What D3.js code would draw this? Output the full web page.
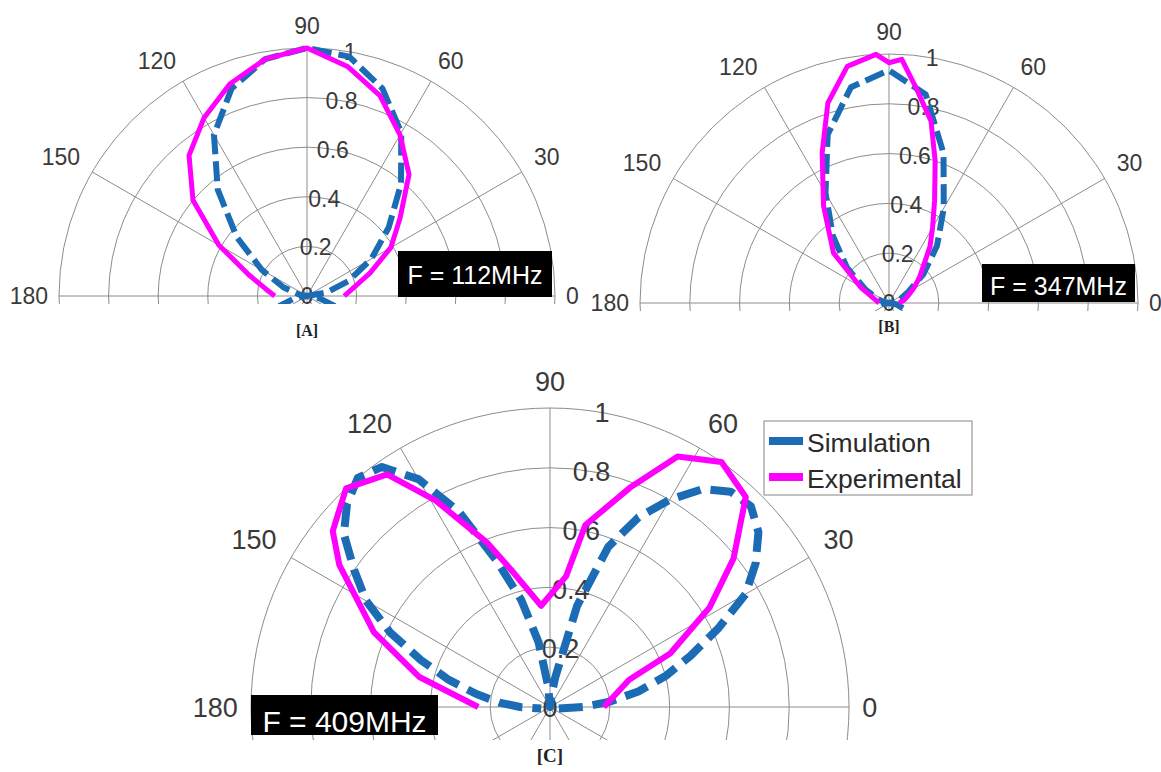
<!DOCTYPE html>
<html><head><meta charset="utf-8">
<script src="https://cdn.jsdelivr.net/npm/d3@7/dist/d3.min.js"></script>
<style>body{margin:0;background:#fff} svg{display:block}</style>
</head><body><svg id="chart" width="1161" height="772"></svg>
<script>
// ---------------- DATA ----------------
const radialTicks = [0, 0.2, 0.4, 0.6, 0.8, 1];
const radialTickLabels = ["0", "0.2", "0.4", "0.6", "0.8", "1"];
const angleTicks = [0, 30, 60, 90, 120, 150, 180];
const seriesNames = ["Simulation", "Experimental"];
const freqLabels = ["F = 112MHz", "F = 347MHz", "F = 409MHz"];
const panelTags = ["[A]", "[B]", "[C]"];

// Panel A (112 MHz)
const simA_deg = [-20, -10, 0, 10, 20, 30, 40, 50, 60, 70, 80, 90, 100, 110, 120, 130, 140, 150, 160, 170, 180, 190, 200];
const simA_val = [0.12, 0.05, 0.00, 0.08, 0.18, 0.30, 0.43, 0.59, 0.76, 0.89, 0.98, 1.00, 0.97, 0.89, 0.75, 0.56, 0.37, 0.21, 0.10, 0.03, 0.00, 0.05, 0.12];
const expA_deg = [0, 10, 20, 30, 40, 50, 60, 70, 80, 90, 100, 110, 120, 130, 140, 150, 160, 170, 180];
const expA_val = [0.15, 0.19, 0.27, 0.39, 0.49, 0.64, 0.75, 0.86, 0.94, 1.00, 0.97, 0.91, 0.83, 0.74, 0.60, 0.41, 0.25, 0.17, 0.13];

// Panel B (347 MHz)
const simB_deg = [-20, -10, 0, 10, 20, 30, 40, 50, 60, 70, 80, 90, 100, 110, 120, 130, 140, 150, 160, 170, 180, 190, 200];
const simB_val = [0.06, 0.03, 0.00, 0.02, 0.05, 0.09, 0.18, 0.30, 0.44, 0.64, 0.85, 0.935, 0.88, 0.72, 0.51, 0.35, 0.22, 0.11, 0.05, 0.02, 0.00, 0.03, 0.06];
const expB_deg = [0, 10, 20, 32, 40, 54, 60, 66, 72, 77, 83, 87, 90, 93, 100, 107, 114, 124, 138, 151, 165, 180];
const expB_val = [0.04, 0.06, 0.08, 0.12, 0.16, 0.28, 0.35, 0.45, 0.60, 0.75, 0.875, 0.98, 0.965, 1.0, 0.965, 0.84, 0.66, 0.47, 0.30, 0.13, 0.06, 0.04];

// Panel C (409 MHz)
const simC_deg = [-10, 0, 5, 10, 15, 20, 25, 30, 35, 40, 45, 50, 55, 60, 65, 70, 75, 80, 85, 90, 95, 100, 105, 110, 115, 120, 125, 130, 135, 140, 145, 150, 155, 160, 165, 170, 175, 180, 190];
const simC_val = [0.03, 0.11, 0.20, 0.30, 0.40, 0.50, 0.62, 0.755, 0.84, 0.91, 0.95, 0.94, 0.89, 0.80, 0.70, 0.57, 0.35, 0.10, 0.03, 0.00, 0.07, 0.22, 0.37, 0.52, 0.72, 0.88, 0.98, 1.00, 0.96, 0.90, 0.80, 0.71, 0.59, 0.46, 0.35, 0.25, 0.17, 0.10, 0.03];
const expC_deg = [0, 19, 24, 32, 39, 47, 55, 63, 70, 79, 83, 95, 106, 111, 119, 125, 133, 141, 146, 157, 167, 180];
const expC_val = [0.18, 0.28, 0.44, 0.63, 0.79, 0.96, 1.00, 0.94, 0.78, 0.62, 0.44, 0.34, 0.48, 0.59, 0.79, 0.95, 1.00, 0.935, 0.85, 0.64, 0.45, 0.24];

// ---------------- LAYOUT / STYLE ----------------
const COLORS = { sim: "#1b6cb4", exp: "#ff00ff", grid: "#8c8c8c", text: "#3a3a3a" };
const FONT = "'Liberation Sans', Arial, sans-serif";
const panels = [
  { cx: 307, cy: 296, R: 248, below: 8, fs: 23, tag: 0,
    box: { x: 398, y: 251, w: 154, h: 46, fs: 25, base: 283.5 },
    cap: { y: 336, fs: 16 },
    sim: [simA_deg, simA_val], exp: [expA_deg, expA_val], simW: 6, expW: 5, dash: "20,7" },
  { cx: 889, cy: 303, R: 249, below: 8, fs: 23, tag: 1,
    box: { x: 982, y: 264, w: 153, h: 38, fs: 25, base: 295 },
    cap: { y: 332, fs: 16 },
    sim: [simB_deg, simB_val], exp: [expB_deg, expB_val], simW: 6, expW: 5, dash: "20,7" },
  { cx: 550, cy: 707, R: 299, below: 33, fs: 27, tag: 2,
    box: { x: 251, y: 695, w: 187, h: 40, fs: 30, base: 731.5 },
    cap: { y: 762, fs: 19 },
    sim: [simC_deg, simC_val], exp: [expC_deg, expC_val], simW: 8, expW: 6, dash: "24,10" }
];

const svg = d3.select("#chart");
svg.append("rect").attr("width", 1161).attr("height", 772).attr("fill", "#fff");

panels.forEach((p, i) => {
  const s = p.R / 248;
  const r = d3.scaleLinear().domain([0, 1]).range([0, p.R]);
  // math degrees (CCW from +x) -> d3 radial angle (CW from 12 o'clock)
  const a = d3.scaleLinear().domain([0, 180]).range([Math.PI / 2, -Math.PI / 2]);
  const xy = (deg, v) => [r(v) * Math.sin(a(deg)), -r(v) * Math.cos(a(deg))];

  const g = svg.append("g").attr("transform", `translate(${p.cx},${p.cy})`);
  const clipId = "clip" + i;
  g.append("clipPath").attr("id", clipId).append("rect")
    .attr("x", -p.R - 60).attr("y", -p.R - 60)
    .attr("width", 2 * p.R + 120).attr("height", p.R + 60 + p.below);

  const grid = g.append("g").attr("clip-path", `url(#${clipId})`);
  grid.selectAll("circle").data(radialTicks.filter(v => v > 0)).join("circle")
    .attr("r", d => r(d)).attr("fill", "none")
    .attr("stroke", COLORS.grid).attr("stroke-width", 1);
  grid.selectAll("line").data(d3.range(0, 360, 30)).join("line")
    .attr("x1", 0).attr("y1", 0)
    .attr("x2", d => xy(d, 1)[0]).attr("y2", d => xy(d, 1)[1])
    .attr("stroke", COLORS.grid).attr("stroke-width", 1);

  // angle labels
  angleTicks.forEach(t => {
    const horiz = (t === 0 || t === 180);
    const gap = (horiz ? 11 : 14) * s;
    const rad = t * Math.PI / 180;
    const px = (p.R + gap) * Math.cos(rad), py = -(p.R + gap) * Math.sin(rad);
    const c = Math.cos(rad);
    g.append("text").attr("x", px).attr("y", py)
      .attr("text-anchor", c > 0.1 ? "start" : (c < -0.1 ? "end" : "middle"))
      .attr("dy", horiz ? "0.36em" : "0")
      .attr("font-family", FONT).attr("font-size", p.fs).attr("fill", COLORS.text)
      .text(t);
  });

  // radial labels (along 80 degrees)
  radialTicks.forEach((v, k) => {
    const [x, y] = xy(80, v);
    g.append("text").attr("x", x).attr("y", y).attr("dy", "0.36em")
      .attr("text-anchor", "middle")
      .attr("font-family", FONT).attr("font-size", p.fs).attr("fill", COLORS.text)
      .text(radialTickLabels[k]);
  });

  // series
  const line = d3.lineRadial().angle(d => a(d[0])).radius(d => r(d[1]));
  const series = g.append("g").attr("clip-path", `url(#${clipId})`);
  const simPts = p.sim[0].map((d, k) => [d, p.sim[1][k]]);
  const expPts = p.exp[0].map((d, k) => [d, p.exp[1][k]]);
  series.append("path").attr("d", line(simPts)).attr("fill", "none")
    .attr("stroke", COLORS.sim).attr("stroke-width", p.simW)
    .attr("stroke-dasharray", p.dash).attr("stroke-linejoin", "round");
  series.append("path").attr("d", line(expPts)).attr("fill", "none")
    .attr("stroke", COLORS.exp).attr("stroke-width", p.expW)
    .attr("stroke-linejoin", "round");

  // frequency box
  svg.append("rect").attr("x", p.box.x).attr("y", p.box.y)
    .attr("width", p.box.w).attr("height", p.box.h).attr("fill", "#000");
  svg.append("text").attr("x", p.box.x + p.box.w / 2).attr("y", p.box.base)
    .attr("text-anchor", "middle").attr("font-family", FONT)
    .attr("font-size", p.box.fs).attr("fill", "#fff").text(freqLabels[i]);

  // caption
  svg.append("text").attr("x", p.cx).attr("y", p.cap.y)
    .attr("text-anchor", "middle").attr("font-family", "'Liberation Serif', 'Times New Roman', serif")
    .attr("font-weight", "bold").attr("font-size", p.cap.fs).attr("fill", "#222")
    .text(panelTags[p.tag]);
});

// legend (panel C)
const leg = svg.append("g").attr("transform", "translate(764,421)");
leg.append("rect").attr("width", 208).attr("height", 74)
  .attr("fill", "#fff").attr("stroke", "#9a9a9a").attr("stroke-width", 1.2);
const legColors = [COLORS.sim, COLORS.exp];
seriesNames.forEach((n, k) => {
  const yy = 20 + k * 36;
  leg.append("line").attr("x1", 5).attr("x2", 39).attr("y1", yy).attr("y2", yy)
    .attr("stroke", legColors[k]).attr("stroke-width", 8);
  leg.append("text").attr("x", 43).attr("y", yy + 10.5)
    .attr("font-family", FONT).attr("font-size", 26.5).attr("fill", "#2a2a2a").text(n);
});
</script>
</body></html>
